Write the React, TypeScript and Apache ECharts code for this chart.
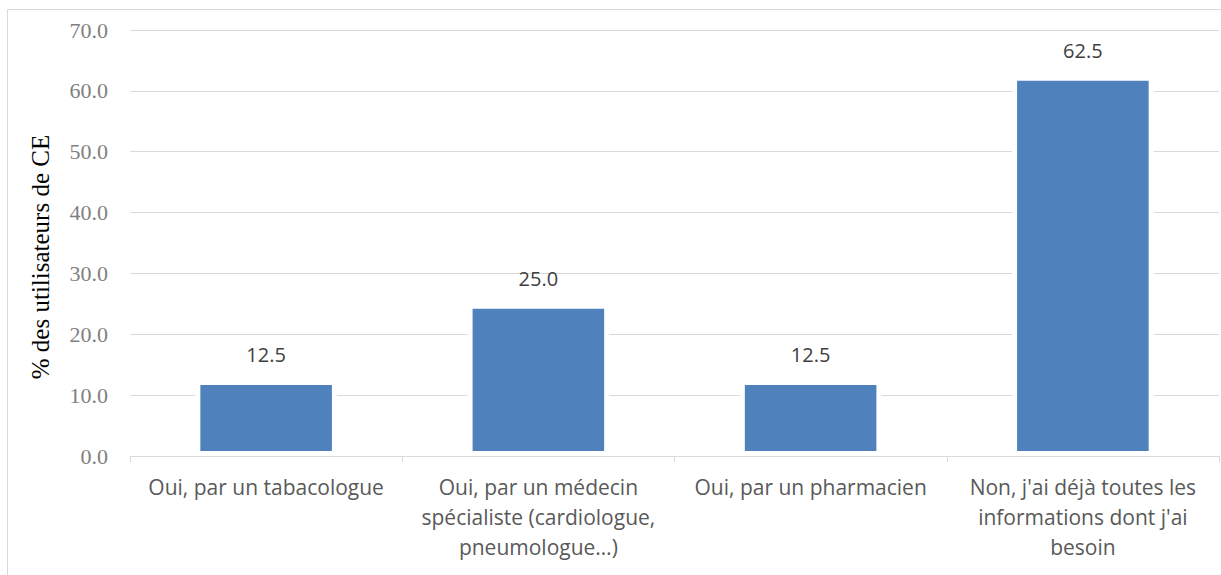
import React, { useEffect, useRef } from "react";
import * as echarts from "echarts";

const categories = [
  "Oui, par un tabacologue",
  "Oui, par un médecin\nspécialiste (cardiologue,\npneumologue…)",
  "Oui, par un pharmacien",
  "Non, j'ai déjà toutes les\ninformations dont j'ai\nbesoin",
];
const values = [12.5, 25.0, 12.5, 62.5];
const yAxisTitle = "% des utilisateurs de CE";

export default function App() {
  const ref = useRef<HTMLDivElement>(null);
  useEffect(() => {
    if (!ref.current) return;
    const chart = echarts.init(ref.current, null, { renderer: "svg" });
    chart.setOption({
      animation: false,
      backgroundColor: "#ffffff",
      grid: { left: 130, right: 2, top: 30, bottom: 119, containLabel: false },
      graphic: [
        {
          type: "rect",
          shape: { x: 7.5, y: 9.5, width: 1240, height: 600 },
          style: { fill: "none", stroke: "#d9d9d9", lineWidth: 1 },
          silent: true,
          z: -1,
        },
        {
          type: "text",
          x: 40,
          y: 257,
          rotation: Math.PI / 2,
          style: {
            text: yAxisTitle,
            fill: "#000000",
            font: '25px "Liberation Serif", serif',
            align: "center",
            verticalAlign: "middle",
          },
        },
      ],
      xAxis: {
        type: "category",
        data: categories,
        z: 5,
        axisLine: { lineStyle: { color: "#d9d9d9", width: 1 } },
        axisTick: { show: true, length: 6, lineStyle: { color: "#d9d9d9" } },
        axisLabel: {
          interval: 0,
          color: "#595959",
          fontFamily: '"Open Sans", sans-serif',
          fontSize: 21,
          lineHeight: 30,
          margin: 16,
        },
      },
      yAxis: {
        type: "value",
        min: 0,
        max: 70,
        interval: 10,
        axisLine: { show: false },
        axisTick: { show: false },
        splitLine: { lineStyle: { color: "#d9d9d9", width: 1 } },
        axisLabel: {
          color: "#808080",
          fontFamily: '"Liberation Serif", serif',
          fontSize: 22,
          margin: 22,
          formatter: (v: number) => v.toFixed(1),
        },
      },
      series: [
        {
          type: "bar",
          data: values,
          barWidth: "52%",
          itemStyle: { color: "#4f81bd", borderColor: "#ffffff", borderWidth: 5 },
          label: {
            show: true,
            position: "top",
            distance: 15,
            color: "#404040",
            fontFamily: '"Open Sans", sans-serif',
            fontSize: 20,
            formatter: (p: any) => Number(p.value).toFixed(1),
          },
        },
      ],
    });
    return () => chart.dispose();
  }, []);
  return (
    <div
      ref={ref}
      style={{ position: "fixed", left: 0, top: 0, width: 1221, height: 575 }}
    />
  );
}
